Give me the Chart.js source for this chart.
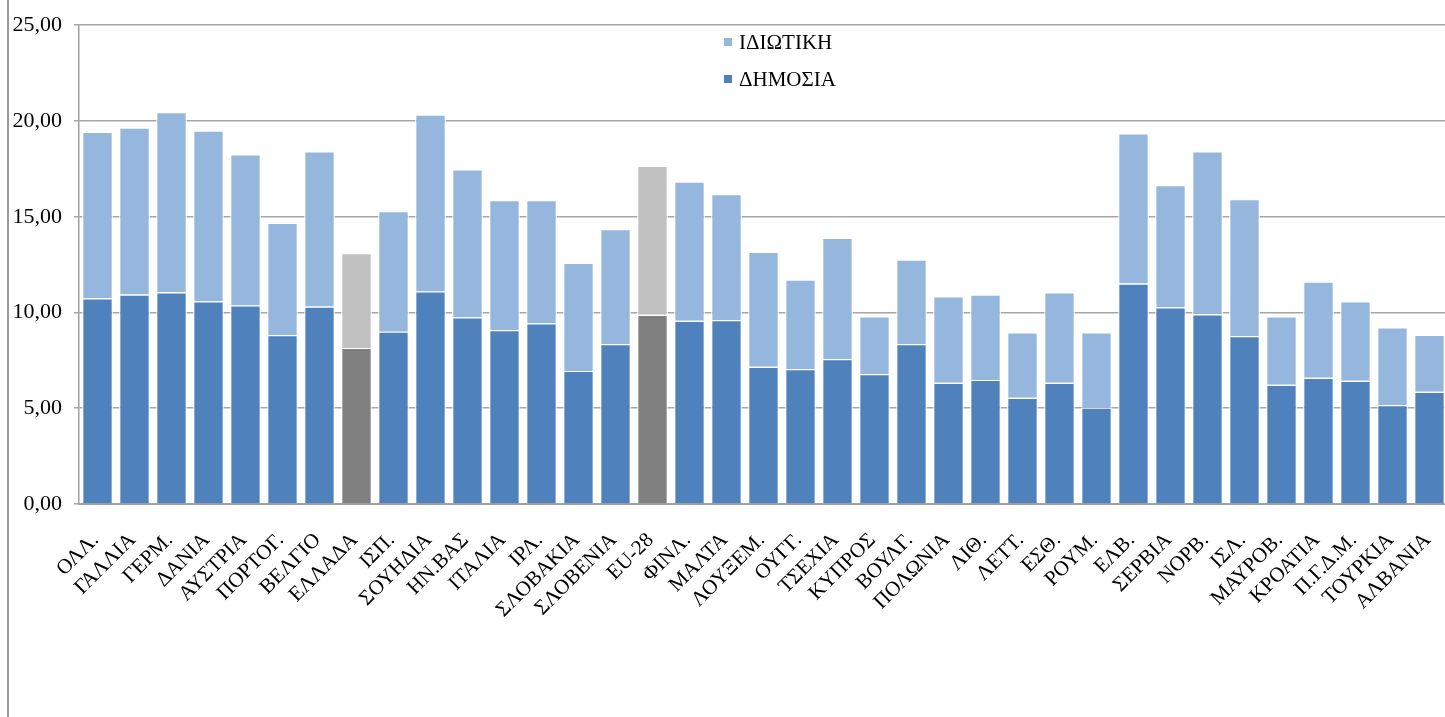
<!DOCTYPE html>
<html lang="el">
<head>
<meta charset="utf-8">
<title>Δημόσια και ιδιωτική δαπάνη</title>
<script src="https://cdn.jsdelivr.net/npm/chart.js@4.4.1/dist/chart.umd.min.js"></script>
<style>
    html, body { margin: 0; padding: 0; background: #fff; overflow: hidden; }
    #wrap { position: relative; width: 1445px; height: 717px; overflow: hidden; }
    #frame { position: absolute; left: 7px; top: 0; width: 0; height: 717px; border-left: 2px solid #9a9a9a; }
    canvas { position: absolute; left: 0; top: 0; }
</style>
</head>
<body>
<div id="wrap">
    <canvas id="expChart" width="1460" height="717"></canvas>
    <div id="frame"></div>
</div>
<script>
// Categories (countries)
const countries = [
    'ΟΛΛ.', 'ΓΑΛΛΙΑ', 'ΓΕΡΜ.', 'ΔΑΝΙΑ', 'ΑΥΣΤΡΙΑ', 'ΠΟΡΤΟΓ.', 'ΒΕΛΓΙΟ', 'ΕΛΛΑΔΑ',
    'ΙΣΠ.', 'ΣΟΥΗΔΙΑ', 'ΗΝ.ΒΑΣ', 'ΙΤΑΛΙΑ', 'ΙΡΛ.', 'ΣΛΟΒΑΚΙΑ', 'ΣΛΟΒΕΝΙΑ', 'EU-28',
    'ΦΙΝΛ.', 'ΜΑΛΤΑ', 'ΛΟΥΞΕΜ.', 'ΟΥΓΓ.', 'ΤΣΕΧΙΑ', 'ΚΥΠΡΟΣ', 'ΒΟΥΛΓ.', 'ΠΟΛΩΝΙΑ',
    'ΛΙΘ.', 'ΛΕΤΤ.', 'ΕΣΘ.', 'ΡΟΥΜ.', 'ΕΛΒ.', 'ΣΕΡΒΙΑ', 'ΝΟΡΒ.', 'ΙΣΛ.',
    'ΜΑΥΡΟΒ.', 'ΚΡΟΑΤΙΑ', 'Π.Γ.Δ.Μ.', 'ΤΟΥΡΚΙΑ', 'ΑΛΒΑΝΙΑ'
];

// Public share (lower segment)
const publicValues = [
    10.74, 10.94, 11.05, 10.58, 10.37, 8.82, 10.31, 8.15,
    9.00, 11.10, 9.75, 9.08, 9.44, 6.95, 8.35, 9.88,
    9.57, 9.60, 7.16, 7.05, 7.57, 6.79, 8.35, 6.33,
    6.48, 5.55, 6.33, 5.03, 11.51, 10.27, 9.91, 8.77,
    6.22, 6.59, 6.43, 5.17, 5.86
];

// Private share (upper segment)
const privateValues = [
    8.69, 8.72, 9.42, 8.92, 7.89, 5.86, 8.10, 4.95,
    6.30, 9.23, 7.73, 6.79, 6.43, 5.65, 6.00, 7.78,
    7.27, 6.58, 6.01, 4.67, 6.33, 3.01, 4.41, 4.51,
    4.46, 3.42, 4.72, 3.94, 7.84, 6.38, 8.50, 7.15,
    3.58, 5.03, 4.15, 4.06, 2.97
];

// Y axis ticks
const yTicks = [0, 5, 10, 15, 20, 25];

// Greece and the EU average are shown in grey
const highlighted = ['ΕΛΛΑΔΑ', 'EU-28'];

const fontFamily = '"Liberation Serif", "Times New Roman", serif';

const publicColors = countries.map(c => highlighted.includes(c) ? '#808080' : '#4F81BD');
const privateColors = countries.map(c => highlighted.includes(c) ? '#C0C0C0' : '#95B7DE');

/**
 * Legend drawn inside the plot area, stacked vertically (upper series first)
 */
const innerLegend = {
    id: 'innerLegend',
    afterDraw(chart) {
        const ctx = chart.ctx;
        const items = [chart.data.datasets[1], chart.data.datasets[0]];
        const x = 724;
        const rowY = [42, 79];
        ctx.save();
        ctx.font = '21px ' + fontFamily;
        ctx.textBaseline = 'middle';
        ctx.textAlign = 'left';
        items.forEach((ds, i) => {
            ctx.fillStyle = ds.legendColor;
            ctx.fillRect(x, rowY[i] - 4, 8, 8);
            ctx.fillStyle = '#000';
            ctx.fillText(ds.label, x + 15, rowY[i] + 1);
        });
        ctx.restore();
    }
};

/**
 * Category labels at a fixed 45 degree slant, placed at the x scale's tick positions
 */
const slantedLabels = {
    id: 'slantedLabels',
    afterDraw(chart) {
        const ctx = chart.ctx;
        const xScale = chart.scales.x;
        const y0 = xScale.top + 33;
        ctx.save();
        ctx.font = '21px ' + fontFamily;
        ctx.fillStyle = '#000';
        ctx.textAlign = 'right';
        ctx.textBaseline = 'middle';
        chart.data.labels.forEach((label, i) => {
            const x = xScale.getPixelForTick(i);
            ctx.save();
            ctx.translate(x - 2, y0);
            ctx.rotate(-Math.PI / 4);
            ctx.fillText(label, 0, 0);
            ctx.restore();
        });
        ctx.restore();
    }
};

const ctx = document.getElementById('expChart');

new Chart(ctx, {
    type: 'bar',
    data: {
        labels: countries,
        datasets: [
            {
                label: 'ΔΗΜΟΣΙΑ',
                data: publicValues,
                backgroundColor: publicColors,
                legendColor: '#4F81BD',
                borderColor: '#FFFFFF',
                borderWidth: 1.2
            },
            {
                label: 'ΙΔΙΩΤΙΚΗ',
                data: privateValues,
                backgroundColor: privateColors,
                legendColor: '#95B7DE',
                borderColor: '#FFFFFF',
                borderWidth: 1.2
            }
        ]
    },
    options: {
        responsive: false,
        animation: false,
        devicePixelRatio: 1,
        layout: {
            padding: { top: 18, right: 12, bottom: 0, left: 0 }
        },
        datasets: {
            bar: {
                categoryPercentage: 1,
                barPercentage: 0.83
            }
        },
        plugins: {
            legend: { display: false },
            tooltip: { enabled: false }
        },
        scales: {
            x: {
                stacked: true,
                afterFit(scale) { scale.height = 213; },
                grid: { display: false },
                border: { color: '#A0A0A0', width: 2 },
                ticks: { display: false }
            },
            y: {
                stacked: true,
                min: yTicks[0],
                max: yTicks[yTicks.length - 1],
                afterFit(scale) { scale.width = 79; },
                afterBuildTicks(scale) { scale.ticks = yTicks.map(v => ({ value: v })); },
                grid: {
                    color: '#A6A6A6',
                    lineWidth: 1.5,
                    tickLength: 5
                },
                border: { color: '#A0A0A0', width: 1.5 },
                ticks: {
                    color: '#000',
                    font: { family: fontFamily, size: 22 },
                    padding: 12,
                    callback: v => v.toFixed(2).replace('.', ',')
                }
            }
        }
    },
    plugins: [innerLegend, slantedLabels]
});
</script>
</body>
</html>
